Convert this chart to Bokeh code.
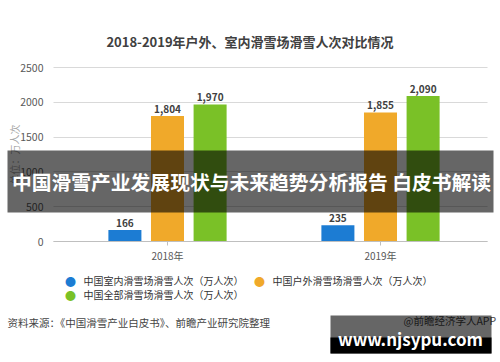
from bokeh.plotting import figure
from bokeh.models import (ColumnDataSource, Range1d, FixedTicker, Label, BoxAnnotation)
from bokeh.embed import file_html
from bokeh.resources import INLINE
from bokeh.core.properties import value

# ---- data ----
years = ["2018年", "2019年"]
indoor = [166, 235]        # 中国室内滑雪场滑雪人次（万人次）
outdoor = [1804, 1855]     # 中国户外滑雪场滑雪人次（万人次）
total = [1970, 2090]       # 中国全部滑雪场滑雪人次（万人次）
y_ticks = [0, 500, 1000, 1500, 2000, 2500]
series_names = ["中国室内滑雪场滑雪人次（万人次）",
                "中国户外滑雪场滑雪人次（万人次）",
                "中国全部滑雪场滑雪人次（万人次）"]
title_text = "2018-2019年户外、室内滑雪场滑雪人次对比情况"
y_label = "单位：万人次"
banner_text = "中国滑雪产业发展现状与未来趋势分析报告 白皮书解读"
source_text = "资料来源：《中国滑雪产业白皮书》、前瞻产业研究院整理"
credit_text = "@前瞻经济学人APP"
site_text = "www.njsypu.com"

colors = ["#1c7cd3", "#f0a92a", "#7ac127"]
FONT = "Noto Sans CJK SC"

W, H = 500, 362
# layout geometry (pixels within the figure)
PX_LEFT, PX_RIGHT = 53, 487      # plot area left/right
PY_TOP, PY_BASE = 67, 241        # y=2500 and y=0 rows
CAT0, CAT1 = 167, 380            # category centres
ux = (CAT1 - CAT0)               # px per category unit
uy = (PY_BASE - PY_TOP) / y_ticks[-1]

x_start = -CAT0 / ux
x_end = 1 + (W - CAT1) / ux
y_start = -(H - PY_BASE) / uy
y_end = y_ticks[-1] + PY_TOP / uy
ax_left = -(CAT0 - PX_LEFT) / ux
ax_right = 1 + (PX_RIGHT - CAT1) / ux

p = figure(width=W, height=H, output_backend="svg", toolbar_location=None,
           x_range=Range1d(x_start, x_end), y_range=Range1d(y_start, y_end),
           min_border=0, x_axis_location="below", y_axis_location="left")
p.outline_line_color = None
p.background_fill_color = "white"
p.border_fill_color = "white"

xs = list(range(len(years)))
offsets = [-0.2, 0.0, 0.2]
for vals, off, col in zip([indoor, outdoor, total], offsets, colors):
    src = ColumnDataSource(dict(x=[x + off for x in xs], top=vals,
                                lab=[f"{v:,}" for v in vals]))
    p.vbar(x="x", top="top", bottom=0, width=0.155, source=src,
           fill_color=col, line_color=None)
    p.text(x="x", y="top", text="lab", source=src, text_align="center",
           text_baseline="bottom", y_offset=-3, text_font=value(FONT),
           text_font_style="bold", text_font_size="10px", text_color="#404040")

# axes
p.xaxis.fixed_location = 0
p.xaxis.bounds = (ax_left, ax_right)
p.xaxis.ticker = FixedTicker(ticks=xs)
p.xaxis.major_label_overrides = {i: y for i, y in enumerate(years)}
p.xaxis.axis_line_color = "#bfbfbf"
p.xaxis.major_tick_line_color = "#bfbfbf"
p.xaxis.major_tick_out = 4
p.xaxis.major_tick_in = 0
p.xaxis.minor_tick_line_color = None
p.xaxis.major_label_standoff = 2
p.xaxis.major_label_text_font = FONT
p.xaxis.major_label_text_font_size = "10px"
p.xaxis.major_label_text_color = "#595959"

p.yaxis.fixed_location = ax_left
p.yaxis.bounds = (0, y_ticks[-1])
p.yaxis.ticker = FixedTicker(ticks=y_ticks)
p.yaxis.axis_line_color = None
p.yaxis.major_tick_line_color = None
p.yaxis.minor_tick_line_color = None
p.yaxis.major_label_standoff = 4
p.yaxis.major_label_text_font = FONT
p.yaxis.major_label_text_font_size = "10.5px"
p.yaxis.major_label_text_color = "#595959"

p.xgrid.grid_line_color = None
p.ygrid.grid_line_color = "#d9d9d9"
p.ygrid.ticker = FixedTicker(ticks=y_ticks)
p.ygrid.bounds = (0, y_ticks[-1])
p.ygrid.cross_bounds = (ax_left, ax_right)

# screen coords: x from figure left, y from figure top (converted)
def lab(x, y, text, size, color, style="normal", align="left", level="annotation", angle=0):
    l = Label(x=x, y=H - y, x_units="screen", y_units="screen", text=text,
              text_font=FONT, text_font_size=size, text_color=color,
              text_font_style=style, text_align=align, text_baseline="middle",
              level=level, angle=angle, angle_units="deg")
    p.add_layout(l)
    return l

lab(249.5, 41, title_text, "13px", "#404040", style="bold", align="center")
lab(14, 154, y_label, "10px", "#a6a6a6", align="center", angle=90)

# legend
legend_pos = [(70, 280), (259, 280), (70, 294)]
for (lx, ly), col, name in zip(legend_pos, colors, series_names):
    lab(lx, ly, "●", "11px", col, align="center")
    lab(lx + 13, ly, name, "10px", "#333333")

lab(7, 322, source_text, "10.5px", "#444444")
lab(403, 320, credit_text, "10.5px", "#444444")

def box(l, r, t, b, alpha):
    p.add_layout(BoxAnnotation(left=l, right=r, bottom=H - b, top=H - t,
                               left_units="screen", right_units="screen",
                               top_units="screen", bottom_units="screen",
                               fill_color="black", fill_alpha=alpha,
                               line_color=None, level="overlay"))

# banner overlay
box(7, 493, 150, 212, 0.6)
lab(251, 181, banner_text, "19.8px", "white", style="bold", align="center", level="overlay")

# site box
box(330, 491, 315, 353, 0.6)
box(330, 491, 337, 353, 1.0)
lab(410, 338, site_text, "17px", "white", style="bold", align="center", level="overlay")

open("out.html", "w").write(file_html(p, INLINE))
